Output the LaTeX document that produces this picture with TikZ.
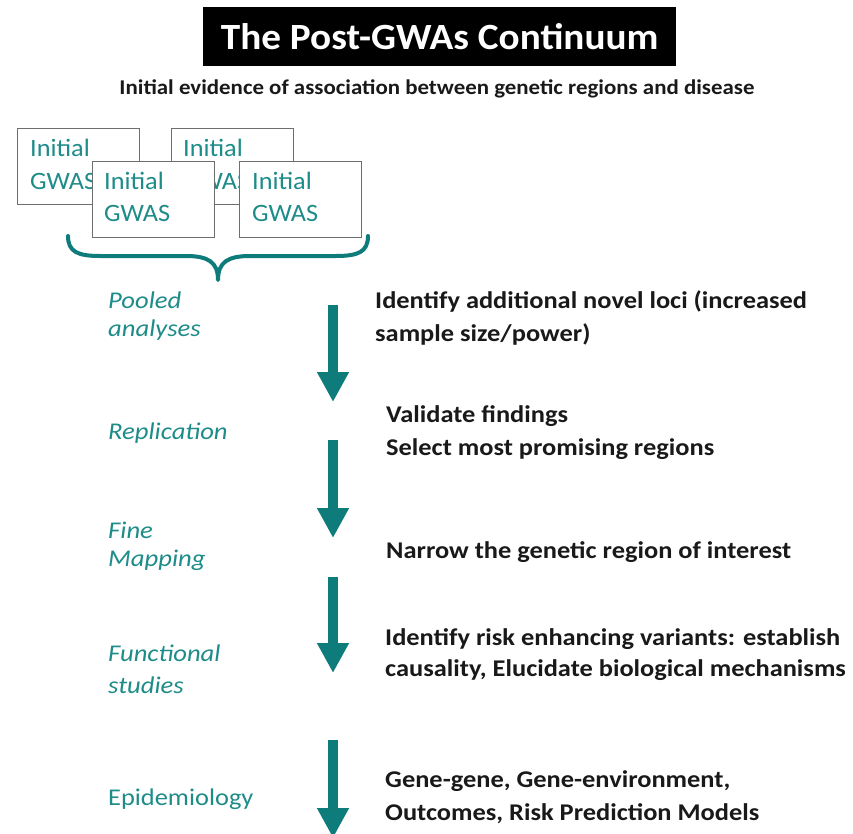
\documentclass[tikz,border=0pt]{standalone}
\usepackage{fontspec}
\usepackage{graphicx}
\setmainfont{Carlito}
\usetikzlibrary{arrows.meta}
\definecolor{teal1}{HTML}{0E7C7B}
\definecolor{tealtext}{HTML}{1E8C89}
\definecolor{boxgray}{HTML}{6E6E6E}
\newcommand\xs[2]{\scalebox{#1}[1]{#2}}
\begin{document}
\begin{tikzpicture}[x=1pt,y=-1pt,
  gbox/.style={draw=boxgray, fill=white, line width=1.2pt, minimum width=122pt, minimum height=76pt, anchor=north west, inner sep=0pt},
  boxtxt/.style={anchor=base west, inner sep=0pt, text=tealtext, font=\fontsize{25}{28}\selectfont},
  lbl/.style={anchor=base west, inner sep=0pt, text=tealtext, font=\fontsize{24}{28}\selectfont\itshape},
  rtxt/.style={anchor=base west, inner sep=0pt, text=black!90, font=\fontsize{24}{28}\selectfont\bfseries},
  bigarrow/.style={draw=teal1, line width=10pt, -{Triangle[width=30pt,length=30pt]}}
]
\clip (0,0) rectangle (853,834);
\fill[white] (0,0) rectangle (853,834);

% title
\node[fill=black, text=white, minimum width=473pt, minimum height=59pt, inner sep=0pt, anchor=north west,
      font=\fontsize{37}{40}\selectfont\bfseries] (title) at (203,7) {\xs{1.06}{The Post-GWAs Continuum}};
\node[anchor=base, inner sep=0pt, text=black!90, font=\fontsize{21}{24}\selectfont\bfseries] (sub) at (437,95)
  {\xs{1.09}{Initial evidence of association between genetic regions and disease}};

% GWAS boxes
\node[gbox] (b1) at (17,128) {};
\node[boxtxt] (b1a) at (30,157) {\xs{1.05}{Initial}};
\node[boxtxt] (b1b) at (30,190) {\xs{1.05}{GWAS}};
\node[gbox] (b2) at (171,128) {};
\node[boxtxt] (b2a) at (183,157) {\xs{1.05}{Initial}};
\node[boxtxt] (b2b) at (183,190) {\xs{1.05}{GWAS}};
\node[gbox] (b3) at (92,161) {};
\node[boxtxt] (b3a) at (104,190) {\xs{1.05}{Initial}};
\node[boxtxt] (b3b) at (104,222) {\xs{1.05}{GWAS}};
\node[gbox] (b4) at (239,161) {};
\node[boxtxt] (b4a) at (252,190) {\xs{1.05}{Initial}};
\node[boxtxt] (b4b) at (252,222) {\xs{1.05}{GWAS}};

% brace
\draw[teal1, line width=4pt, line cap=round, line join=round]
  (68,236) .. controls (68,252) and (78,256) .. (100,256) -- (186,256)
  .. controls (208,256) and (218,262) .. (218,280)
  .. controls (218,262) and (228,256) .. (250,256) -- (336,256)
  .. controls (358,256) and (368,252) .. (368,236);

% left labels
\node[lbl] (l1a) at (108,308) {\xs{1.11}{Pooled}};
\node[lbl] (l1b) at (108,336) {\xs{1.11}{analyses}};
\node[lbl] (l2) at (108,439) {\xs{1.11}{Replication}};
\node[lbl] (l3a) at (108,538) {\xs{1.11}{Fine}};
\node[lbl] (l3b) at (108,566) {\xs{1.11}{Mapping}};
\node[lbl] (l4a) at (108,661) {\xs{1.11}{Functional}};
\node[lbl] (l4b) at (108,693) {\xs{1.11}{studies}};
\node[lbl, font=\fontsize{24}{28}\selectfont] (l5) at (108,805) {\xs{1.1}{Epidemiology}};

% arrows
\coordinate (a1s) at (333,305); \coordinate (a1e) at (333,402);
\coordinate (a2s) at (333,440); \coordinate (a2e) at (333,538);
\coordinate (a3s) at (333,577); \coordinate (a3e) at (333,673);
\coordinate (a4s) at (333,740); \coordinate (a4e) at (333,838);
\draw[bigarrow] (a1s) -- (a1e);
\draw[bigarrow] (a2s) -- (a2e);
\draw[bigarrow] (a3s) -- (a3e);
\draw[bigarrow] (a4s) -- (a4e);

% right texts
\node[rtxt] (r1a) at (375,308) {\xs{1.1}{Identify additional novel loci (increased}};
\node[rtxt] (r1b) at (375,341) {\xs{1.1}{sample size/power)}};
\node[rtxt] (r2a) at (386,422) {\xs{1.1}{Validate findings}};
\node[rtxt] (r2b) at (386,455) {\xs{1.1}{Select most promising regions}};
\node[rtxt] (r3) at (386,558) {\xs{1.1}{Narrow the genetic region of interest}};
\node[rtxt] (r4a) at (385,645) {\xs{1.1}{Identify risk enhancing variants: establish}};
\node[rtxt] (r4b) at (385,676) {\xs{1.1}{causality, Elucidate biological mechanisms}};
\node[rtxt] (r5a) at (385,787) {\xs{1.1}{Gene-gene, Gene-environment,}};
\node[rtxt] (r5b) at (385,820) {\xs{1.1}{Outcomes, Risk Prediction Models}};
\end{tikzpicture}
\end{document}
